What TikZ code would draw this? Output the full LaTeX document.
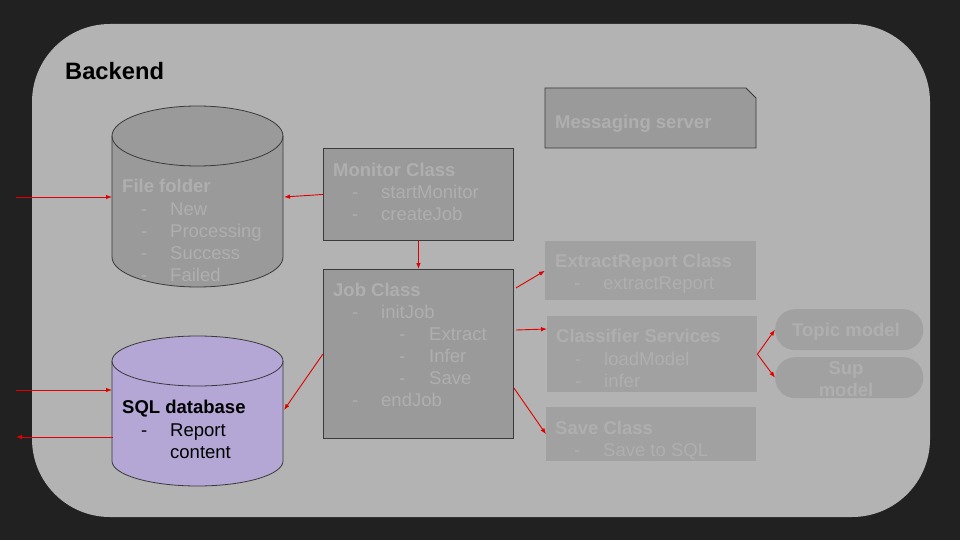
\documentclass[tikz,border=0pt]{standalone}
\usepackage{fontspec}
\setmainfont{Liberation Sans}
\usetikzlibrary{arrows.meta,calc}
\definecolor{bgdark}{HTML}{212121}
\definecolor{panel}{HTML}{B3B3B3}
\definecolor{boxfill}{HTML}{9A9A9A}
\definecolor{softfill}{HTML}{A1A1A1}
\definecolor{ghost}{HTML}{AFAFAF}
\definecolor{lav}{HTML}{B4A7D6}
\definecolor{redline}{HTML}{E00000}
\definecolor{edgecol}{HTML}{3A3A3A}
\tikzset{
  arr/.style={draw=redline, line width=0.9pt, -{Latex[length=6pt,width=4.5pt]}},
  classbox/.style={draw=edgecol, line width=0.9pt, fill=boxfill, anchor=north west, inner sep=0pt},
  softbox/.style={fill=softfill, anchor=north west, inner sep=0pt},
  pill/.style={fill=softfill, anchor=north west, inner sep=0pt, rounded corners=20pt},
  txt/.style={anchor=base west, inner sep=0pt, font=\fontsize{18.5}{22}\selectfont, text=ghost},
  ttl/.style={txt, font=\fontsize{18.5}{22}\selectfont\bfseries},
  dtxt/.style={txt, text=black},
  dttl/.style={ttl, text=black},
}
\begin{document}
\begin{tikzpicture}[x=1pt,y=-1pt]
\useasboundingbox (0,0) rectangle (960,540);
\fill[bgdark] (0,0) rectangle (960,540);
\fill[panel, rounded corners=78pt] (32,24) rectangle (930,517);
\node[anchor=base west, inner sep=0pt, font=\fontsize{23.7}{28}\selectfont\bfseries] (backend) at (65,80) {Backend};

% File folder cylinder
\draw[edgecol, line width=0.8pt, fill=boxfill] (112,136) -- (112,257) arc[start angle=180, end angle=0, x radius=85.5, y radius=30] -- (283,136) arc[start angle=0, end angle=-180, x radius=85.5, y radius=30] -- cycle;
\draw[edgecol, line width=0.8pt] (112,136) arc[start angle=180, end angle=0, x radius=85.5, y radius=30];
\node[inner sep=0pt, minimum width=171pt, minimum height=181pt, anchor=north west] (ff) at (112,106) {};
\node[ttl] (ffT) at (122,193) {File folder};
\node[txt] (ffd1) at (141,215) {-}; \node[txt] (ff1) at (170,215) {New};
\node[txt] (ffd2) at (141,237) {-}; \node[txt] (ff2) at (170,237) {Processing};
\node[txt] (ffd3) at (141,259) {-}; \node[txt] (ff3) at (170,259) {Success};
\node[txt] (ffd4) at (141,281) {-}; \node[txt] (ff4) at (170,281) {Failed};

% SQL cylinder
\draw[edgecol, line width=0.8pt, fill=lav] (112,361) -- (112,461) arc[start angle=180, end angle=0, x radius=85.5, y radius=25] -- (283,361) arc[start angle=0, end angle=-180, x radius=85.5, y radius=25] -- cycle;
\draw[edgecol, line width=0.8pt] (112,361) arc[start angle=180, end angle=0, x radius=85.5, y radius=25];
\node[inner sep=0pt, minimum width=171pt, minimum height=150pt, anchor=north west] (sql) at (112,336) {};
\node[dttl] (sqlT) at (122,413) {SQL database};
\node[dtxt] (sqld1) at (141,436) {-}; \node[dtxt] (sql1) at (170,436) {Report};
\node[dtxt] (sql2) at (170,458) {content};

% Monitor class
\node[classbox, minimum width=190pt, minimum height=92pt] (mon) at (323,148) {};
\node[ttl] (monT) at (333,176) {Monitor Class};
\node[txt] (mond1) at (352,198) {-}; \node[txt] (mon1) at (381,198) {startMonitor};
\node[txt] (mond2) at (352,220) {-}; \node[txt] (mon2) at (381,220) {createJob};

% Job class
\node[classbox, minimum width=190pt, minimum height=169pt] (job) at (323,269) {};
\node[ttl] (jobT) at (333,296) {Job Class};
\node[txt] (jobd1) at (352,318) {-}; \node[txt] (job1) at (381,318) {initJob};
\node[txt] (jobd2) at (399,340) {-}; \node[txt] (job2) at (429,340) {Extract};
\node[txt] (jobd3) at (399,362) {-}; \node[txt] (job3) at (429,362) {Infer};
\node[txt] (jobd4) at (399,384) {-}; \node[txt] (job4) at (429,384) {Save};
\node[txt] (jobd5) at (352,406) {-}; \node[txt] (job5) at (381,406) {endJob};

% Messaging server
\draw[edgecol, line width=0.9pt, fill=boxfill] (545,88) -- (746,88) -- (756,98) -- (756,148) -- (545,148) -- cycle;
\node[inner sep=0pt, minimum width=211pt, minimum height=60pt, anchor=north west] (msg) at (545,88) {};
\node[ttl] (msgT) at (555,129) {Messaging server};

% ExtractReport
\node[softbox, minimum width=211pt, minimum height=59pt] (ext) at (545,241) {};
\node[ttl] (extT) at (555,267) {ExtractReport Class};
\node[txt] (extd1) at (574,289) {-}; \node[txt] (ext1) at (603,289) {extractReport};

% Classifier
\node[softbox, minimum width=210pt, minimum height=76pt] (cls) at (547,316) {};
\node[ttl] (clsT) at (556,342) {Classifier Services};
\node[txt] (clsd1) at (575,365) {-}; \node[txt] (cls1) at (604,365) {loadModel};
\node[txt] (clsd2) at (575,387) {-}; \node[txt] (cls2) at (604,387) {infer};

% Save class
\node[softbox, minimum width=210pt, minimum height=54pt] (sav) at (546,407) {};
\node[ttl] (savT) at (555,434) {Save Class};
\node[txt] (savd1) at (574,456) {-}; \node[txt] (sav1) at (603,456) {Save to SQL};

% Pills
\node[pill, minimum width=148pt, minimum height=41pt] (top) at (775,309) {};
\node[ttl, anchor=base] (topT) at (846,336) {Topic model};
\node[pill, minimum width=148pt, minimum height=41pt] (sup) at (775,357) {};
\node[ttl, anchor=base] (supT1) at (846,374) {Sup};
\node[ttl, anchor=base] (supT2) at (846,396) {model};

% Connectors
\coordinate (inFF) at (16,197);
\coordinate (ffW) at (112,197);
\coordinate (ffE) at (284,197);
\coordinate (inSQL) at (16,390);
\coordinate (sqlW) at (112,390);
\coordinate (sqlWo) at (113,437);
\coordinate (outSQL) at (16,437);
\coordinate (sqlE) at (284,410);
\draw[arr] (inFF) -- (ffW);
\draw[arr] (mon.west) -- (ffE);
\draw[arr] (mon.south) -- (job.north);
\draw[arr] (job.west) -- (sqlE);
\draw[arr] ([shift={(2,19)}]job.north east) -- (ext.west);
\draw[arr] ([shift={(2,61)}]job.north east) -- ([shift={(0,13)}]cls.north west);
\draw[arr] ([shift={(0,119)}]job.north east) -- (sav.west);
\draw[arr] (cls.east) -- (top.west);
\draw[arr] (cls.east) -- (sup.west);
\draw[arr] (inSQL) -- (sqlW);
\draw[arr] (sqlWo) -- (outSQL);
\end{tikzpicture}
\end{document}
